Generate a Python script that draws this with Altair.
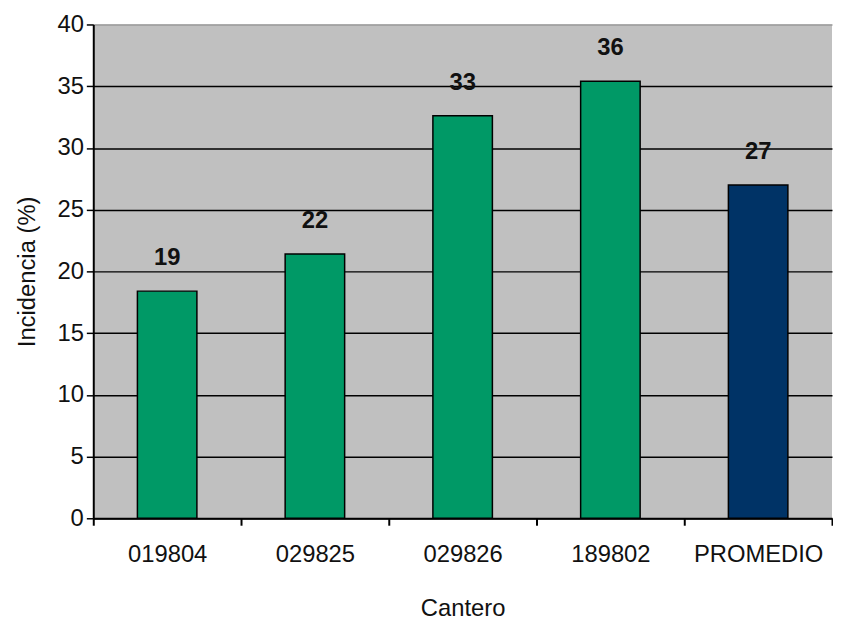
import altair as alt
import pandas as pd

categories = ["019804", "029825", "029826", "189802", "PROMEDIO"]
values = [18.4, 21.4, 32.6, 35.4, 27.0]
labels = ["19", "22", "33", "36", "27"]
bar_colors = ["#009966", "#009966", "#009966", "#009966", "#003366"]

df = pd.DataFrame({"Cantero": categories, "Incidencia": values,
                   "label": labels, "color": bar_colors})

FONT = "Liberation Sans Narrow, Arial Narrow, Liberation Sans, Arial, sans-serif"

x = alt.X("Cantero:N", sort=categories,
          scale=alt.Scale(paddingInner=0, paddingOuter=0),
          axis=alt.Axis(title="Cantero", labelAngle=0, tickBand="extent",
                        grid=False, domainColor="black", domainWidth=2,
                        tickColor="black", tickWidth=2, tickSize=7,
                        labelPadding=18, titlePadding=30))
y = alt.Y("Incidencia:Q", scale=alt.Scale(domain=[0, 40], nice=False),
          axis=alt.Axis(title="Incidencia (%)", values=list(range(0, 41, 5)),
                        grid=True, gridColor=alt.expr("datum.value == 40 ? '#9a9a9a' : 'black'"),
                        gridWidth=1.5, domainColor="black", domainWidth=2,
                        tickColor="black", tickWidth=1.5, tickSize=7,
                        labelPadding=3, titlePadding=18))

bars = alt.Chart(df).mark_bar(size=60, stroke="black", strokeWidth=1.5).encode(
    x=x, y=y, color=alt.Color("color:N", scale=None))

text = alt.Chart(df).mark_text(font=FONT, fontSize=24, fontWeight="bold",
                               baseline="middle", dy=-33, color="#111111").encode(
    x=alt.X("Cantero:N", sort=categories), y="Incidencia:Q", text="label:N")

chart = (bars + text).properties(
    width=745, height=498,
    padding={"left": 7, "top": 2, "right": 0, "bottom": 0},
).configure_view(fill="#C0C0C0", strokeWidth=0).configure_axis(
    labelFont=FONT, labelFontSize=24, labelColor="#111111",
    titleFont=FONT, titleFontSize=24, titleFontWeight="normal", titleColor="#111111",
)

chart.save("out.html", embed_options={"renderer": "svg", "actions": False})
